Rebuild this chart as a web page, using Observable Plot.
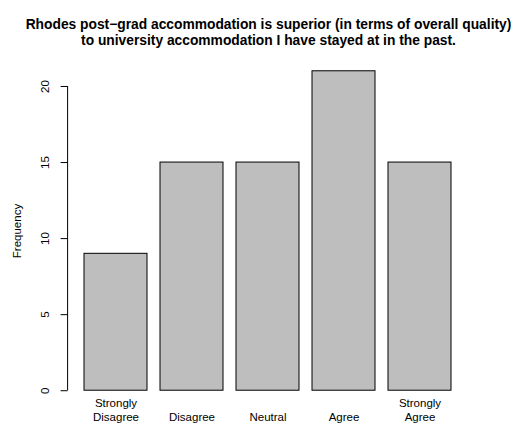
<!DOCTYPE html>
<html>
<head>
<meta charset="utf-8">
<script src="https://cdn.jsdelivr.net/npm/d3@7"></script>
<script src="https://cdn.jsdelivr.net/npm/@observablehq/plot@0.6"></script>
<style>
  body { margin: 0; background: #fff; font-family: "Liberation Sans", Arial, sans-serif; }
  #title {
    height: 50px; box-sizing: border-box; padding-top: 17px; padding-left: 24px;
    text-align: center; font-weight: bold; font-size: 13.8px; line-height: 15.5px;
    white-space: nowrap; color: #000;
  }
  #chart svg { display: block; overflow: visible; }
</style>
</head>
<body>
<div id="title"></div>
<div id="chart"></div>
<script>
const titleLines = [
  "Rhodes post\u2212grad accommodation is superior (in terms of overall quality)",
  "to university accommodation I have stayed at in the past."
];
const categories = ["Strongly Disagree", "Disagree", "Neutral", "Agree", "Strongly Agree"];
const tickLabels = ["Strongly\nDisagree", "Disagree", "Neutral", "Agree", "Strongly\nAgree"];
const frequencies = [9, 15, 15, 21, 15];
const yTicks = [0, 5, 10, 15, 20];
const yLabel = "Frequency";

document.getElementById("title").innerHTML = titleLines.map(t => t.replace(/&/g, "&amp;").replace(/</g, "&lt;")).join("<br>");

const data = categories.map((c, i) => ({category: c, label: tickLabels[i], count: frequencies[i]}));

// R-style y axis line spanning only the tick range
const axisLine = (index, scales, values, dimensions) => {
  const y = scales.y || (scales.scales && scales.scales.y);
  const x0 = dimensions.marginLeft;
  const line = document.createElementNS("http://www.w3.org/2000/svg", "line");
  line.setAttribute("x1", x0);
  line.setAttribute("x2", x0);
  line.setAttribute("y1", y(yTicks[0]));
  line.setAttribute("y2", y(yTicks[yTicks.length - 1]));
  line.setAttribute("stroke", "black");
  return line;
};

const maxV = d3.max(frequencies);
const pad = 0.04 * maxV;

const chart = Plot.plot({
  width: 513,
  height: 373,
  marginLeft: 67.6,
  marginRight: 44.8,
  marginTop: 8,
  marginBottom: 20,
  style: {fontFamily: "'Liberation Sans', Arial, sans-serif", fontSize: "11.5px", color: "black", background: "white"},
  x: {domain: categories, paddingInner: 0.2 / 1.2, paddingOuter: 0.232 / 1.2, axis: null},
  y: {domain: [-pad, maxV + pad], axis: null},
  marks: [
    Plot.barY(data, {x: "category", y: "count", fill: "#bebebe", stroke: "black", strokeWidth: 1, inset: 0}),
    Plot.axisY(yTicks, {
      tickSize: 7, tickRotate: -90, textAnchor: "middle", lineAnchor: "middle",
      tickPadding: 16, label: null, fontSize: 11.5
    }),
    axisLine,
    Plot.text([yLabel], {
      text: d => d, frameAnchor: "left", rotate: -90, dx: -51,
      textAnchor: "middle", lineAnchor: "middle", fontSize: 11.5
    }),
    Plot.text(data, {
      x: "category", text: "label", frameAnchor: "bottom", lineAnchor: "bottom",
      dy: 17, lineHeight: 1.2, fontSize: 11.5
    })
  ]
});
document.getElementById("chart").appendChild(chart);
</script>
</body>
</html>
